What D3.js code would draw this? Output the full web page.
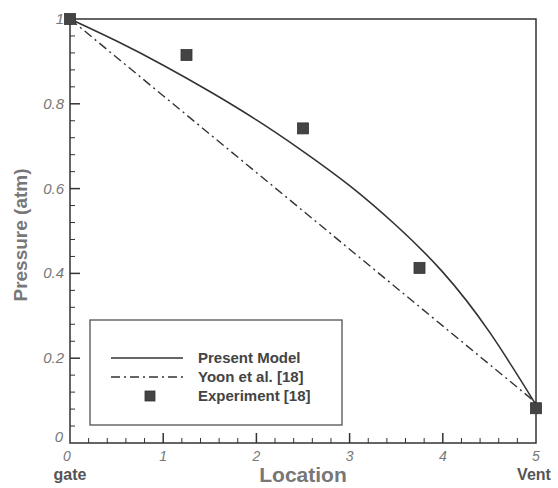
<!DOCTYPE html>
<html>
<head>
<meta charset="utf-8">
<script src="https://cdn.jsdelivr.net/npm/d3@7"></script>
<style>
  body { margin: 0; background: #fff; }
  svg text { font-family: Arial, "Liberation Sans", sans-serif; }
</style>
</head>
<body>
<div id="chart"></div>
<script>
// data
const modelLocation = [0, 0.5, 1.0, 1.5, 2.0, 2.5, 3.0, 3.5, 4.0, 4.5, 5.0];
const modelPressure = [1.0, 0.948, 0.891, 0.829, 0.762, 0.688, 0.607, 0.513, 0.403, 0.262, 0.09];
const yoonLocation = [0, 5];
const yoonPressure = [1.0, 0.095];
const expLocation = [0, 1.25, 2.5, 3.75, 5];
const expPressure = [1.0, 0.915, 0.742, 0.413, 0.082];
const xTicks = [0, 1, 2, 3, 4, 5];
const yTicks = [0, 0.2, 0.4, 0.6, 0.8, 1];
const legendLabels = ["Present Model", "Yoon et al. [18]", "Experiment [18]"];

const width = 558, height = 488;
const margin = { top: 19, right: 22, bottom: 45, left: 70 };
const axisColor = "#333";
const labelColor = "#777";

const svg = d3.select("#chart").append("svg")
  .attr("width", width)
  .attr("height", height);

const x = d3.scaleLinear().domain([0, 5]).range([margin.left, width - margin.right]);
const y = d3.scaleLinear().domain([0, 1]).range([height - margin.bottom, margin.top]);

// frame
svg.append("rect")
  .attr("x", x(0)).attr("y", y(1))
  .attr("width", x(5) - x(0)).attr("height", y(0) - y(1))
  .attr("fill", "none").attr("stroke", axisColor).attr("stroke-width", 1.5);

// ticks (inward)
const xMinor = d3.range(0, 5.001, 0.2).filter(v => Math.abs(v - Math.round(v)) > 1e-6);
const yMinor = d3.range(0, 1.001, 0.04).filter(v => Math.abs(v * 5 - Math.round(v * 5)) > 1e-6);

svg.append("g").selectAll("line").data(xTicks.slice(1, -1)).join("line")
  .attr("x1", d => x(d)).attr("x2", d => x(d))
  .attr("y1", y(0)).attr("y2", y(0) - 10)
  .attr("stroke", axisColor).attr("stroke-width", 1.5);
svg.append("g").selectAll("line").data(xMinor).join("line")
  .attr("x1", d => x(d)).attr("x2", d => x(d))
  .attr("y1", y(0)).attr("y2", y(0) - 5)
  .attr("stroke", axisColor).attr("stroke-width", 1);
svg.append("g").selectAll("line").data(yTicks.slice(1, -1)).join("line")
  .attr("x1", x(0)).attr("x2", x(0) + 10)
  .attr("y1", d => y(d)).attr("y2", d => y(d))
  .attr("stroke", axisColor).attr("stroke-width", 1.5);
svg.append("g").selectAll("line").data(yMinor).join("line")
  .attr("x1", x(0)).attr("x2", x(0) + 5)
  .attr("y1", d => y(d)).attr("y2", d => y(d))
  .attr("stroke", axisColor).attr("stroke-width", 1);

// tick labels
svg.append("g").selectAll("text").data(xTicks).join("text")
  .attr("x", d => x(d) + (d === 0 ? -3 : 0)).attr("y", y(0) + 18)
  .attr("text-anchor", "middle")
  .attr("font-size", 14).attr("font-style", "italic")
  .attr("fill", labelColor)
  .text(d => d);
svg.append("g").selectAll("text").data(yTicks).join("text")
  .attr("x", d => d === 0 ? x(0) - 7 : x(0) - 6)
  .attr("y", d => d === 0 ? y(d) - 1 : y(d) + 5)
  .attr("text-anchor", "end")
  .attr("font-size", 15).attr("font-style", "italic")
  .attr("fill", labelColor)
  .text(d => d);

// axis titles
svg.append("text")
  .attr("x", x(0)).attr("y", 480)
  .attr("text-anchor", "middle")
  .attr("font-size", 16).attr("font-weight", "bold")
  .attr("fill", "#555").text("gate");
svg.append("text")
  .attr("x", x(5) - 2).attr("y", 480)
  .attr("text-anchor", "middle")
  .attr("font-size", 16).attr("font-weight", "bold")
  .attr("fill", "#555").text("Vent");
svg.append("text")
  .attr("x", 303).attr("y", 482)
  .attr("text-anchor", "middle")
  .attr("font-size", 21).attr("font-weight", "bold")
  .attr("fill", labelColor).text("Location");
svg.append("text")
  .attr("transform", `translate(27,${(y(0) + y(1)) / 2 + 4}) rotate(-90)`)
  .attr("text-anchor", "middle")
  .attr("font-size", 19).attr("font-weight", "bold")
  .attr("fill", labelColor).text("Pressure (atm)");

// series
svg.append("path")
  .datum(d3.zip(modelLocation, modelPressure))
  .attr("d", d3.line().x(d => x(d[0])).y(d => y(d[1])).curve(d3.curveNatural))
  .attr("fill", "none").attr("stroke", "#333").attr("stroke-width", 1.6);

svg.append("path")
  .datum(d3.zip(yoonLocation, yoonPressure))
  .attr("d", d3.line().x(d => x(d[0])).y(d => y(d[1])))
  .attr("fill", "none").attr("stroke", "#333").attr("stroke-width", 1.4)
  .attr("stroke-dasharray", "9,4,2,4");

const sq = 11;
svg.append("g").selectAll("rect").data(d3.zip(expLocation, expPressure)).join("rect")
  .attr("x", d => x(d[0]) - sq / 2).attr("y", d => y(d[1]) - sq / 2)
  .attr("width", sq).attr("height", sq)
  .attr("fill", "#444").attr("stroke", "#333").attr("stroke-width", 0.8);

// legend
const legend = svg.append("g");
legend.append("rect")
  .attr("x", 90).attr("y", 320).attr("width", 252).attr("height", 105)
  .attr("fill", "#fff").attr("stroke", "#444").attr("stroke-width", 1.2);

const rowY = [358, 377, 396];
legend.append("line")
  .attr("x1", 111).attr("x2", 183).attr("y1", rowY[0]).attr("y2", rowY[0])
  .attr("stroke", "#333").attr("stroke-width", 1.6);
legend.append("line")
  .attr("x1", 111).attr("x2", 183).attr("y1", rowY[1]).attr("y2", rowY[1])
  .attr("stroke", "#333").attr("stroke-width", 1.4)
  .attr("stroke-dasharray", "9,4,2,4");
legend.append("rect")
  .attr("x", 150 - 5).attr("y", rowY[2] - 5).attr("width", 10).attr("height", 10)
  .attr("fill", "#444").attr("stroke", "#333").attr("stroke-width", 0.8);

legend.selectAll("text.lab").data(legendLabels).join("text")
  .attr("class", "lab")
  .attr("x", 198).attr("y", (d, i) => rowY[i] + 5)
  .attr("font-size", 15).attr("font-weight", "bold")
  .attr("fill", "#444")
  .text(d => d);
</script>
</body>
</html>
